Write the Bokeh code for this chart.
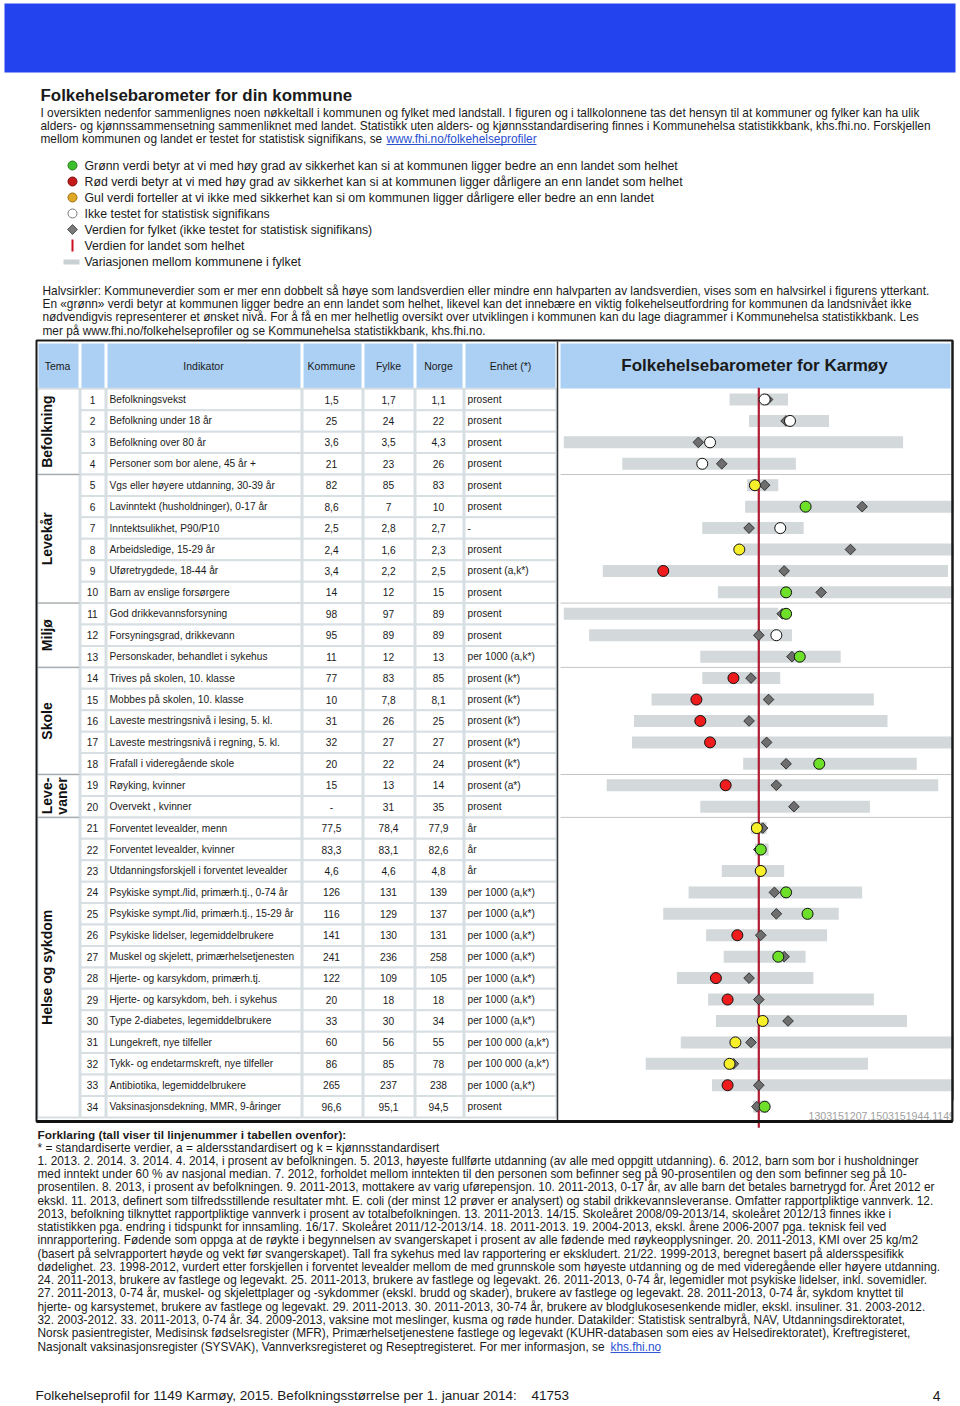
import math
from bokeh.plotting import figure
from bokeh.models import Range1d
from bokeh.core.properties import value
from bokeh.embed import file_html
from bokeh.resources import INLINE

# ---------------- data ----------------
row_no = list(range(1, 35))
indikator = [
    "Befolkningsvekst", "Befolkning under 18 år", "Befolkning over 80 år",
    "Personer som bor alene, 45 år +", "Vgs eller høyere utdanning, 30-39 år",
    "Lavinntekt (husholdninger), 0-17 år", "Inntektsulikhet, P90/P10",
    "Arbeidsledige, 15-29 år", "Uføretrygdede, 18-44 år", "Barn av enslige forsørgere",
    "God drikkevannsforsyning", "Forsyningsgrad, drikkevann",
    "Personskader, behandlet i sykehus", "Trives på skolen, 10. klasse",
    "Mobbes på skolen, 10. klasse", "Laveste mestringsnivå i lesing, 5. kl.",
    "Laveste mestringsnivå i regning, 5. kl.", "Frafall i videregående skole",
    "Røyking, kvinner", "Overvekt , kvinner", "Forventet levealder, menn",
    "Forventet levealder, kvinner", "Utdanningsforskjell i forventet levealder",
    "Psykiske sympt./lid, primærh.tj., 0-74 år", "Psykiske sympt./lid, primærh.tj., 15-29 år",
    "Psykiske lidelser, legemiddelbrukere", "Muskel og skjelett, primærhelsetjenesten",
    "Hjerte- og karsykdom, primærh.tj.", "Hjerte- og karsykdom, beh. i sykehus",
    "Type 2-diabetes, legemiddelbrukere", "Lungekreft, nye tilfeller",
    "Tykk- og endetarmskreft, nye tilfeller", "Antibiotika, legemiddelbrukere",
    "Vaksinasjonsdekning, MMR, 9-åringer",
]
kommune = ["1,5", "25", "3,6", "21", "82", "8,6", "2,5", "2,4", "3,4", "14", "98", "95", "11",
           "77", "10", "31", "32", "20", "15", "-", "77,5", "83,3", "4,6", "126", "116", "141",
           "241", "122", "20", "33", "60", "86", "265", "96,6"]
fylke = ["1,7", "24", "3,5", "23", "85", "7", "2,8", "1,6", "2,2", "12", "97", "89", "12",
         "83", "7,8", "26", "27", "22", "13", "31", "78,4", "83,1", "4,6", "131", "129", "130",
         "236", "109", "18", "30", "56", "85", "237", "95,1"]
norge = ["1,1", "22", "4,3", "26", "83", "10", "2,7", "2,3", "2,5", "15", "89", "89", "13",
         "85", "8,1", "25", "27", "24", "14", "35", "77,9", "82,6", "4,8", "139", "137", "131",
         "258", "105", "18", "34", "55", "78", "238", "94,5"]
enhet = ["prosent"] * 6 + ["-", "prosent", "prosent (a,k*)", "prosent", "prosent", "prosent",
         "per 1000 (a,k*)"] + ["prosent (k*)"] * 5 + ["prosent (a*)", "prosent", "år", "år", "år"] \
        + ["per 1000 (a,k*)"] * 7 + ["per 100 000 (a,k*)"] * 2 + ["per 1000 (a,k*)", "prosent"]

tema_names = ["Befolkning", "Levekår", "Miljø", "Skole", "Leve-", "Helse og sykdom"]
tema_first = [1, 5, 11, 14, 19, 21]
tema_last = [4, 10, 13, 18, 20, 34]
tema_extra = "vaner"

# barometer scale: 0 = Norge, -1 / +1 = half / double (edge of figure)
status = ["w", "w", "w", "w", "y", "g", "w", "y", "r", "g", "g", "w", "g", "r", "r", "r", "r",
          "g", "r", "", "y", "g", "y", "g", "g", "r", "g", "r", "r", "y", "y", "y", "r", "g"]
score_kommune = [0.03, 0.16, -0.25, -0.29, -0.02, 0.24, 0.11, -0.10, -0.49, 0.14, 0.14, 0.09,
                 0.21, -0.13, -0.32, -0.30, -0.25, 0.31, -0.17, None, -0.01, 0.01, 0.01, 0.14,
                 0.25, -0.11, 0.10, -0.22, -0.16, 0.02, -0.12, -0.15, -0.16, 0.03]
score_fylke = [0.045, 0.14, -0.31, -0.19, 0.03, 0.53, -0.05, 0.47, 0.13, 0.32, 0.12, 0.0,
               0.17, -0.04, 0.05, -0.05, 0.04, 0.14, 0.09, 0.18, 0.02, 0.0, 0.01, 0.08, 0.09,
               0.01, 0.13, -0.05, 0.0, 0.15, -0.04, -0.13, 0.0, -0.01]
score_lo = [-0.15, -0.05, -1.0, -0.70, -0.06, -0.07, -0.29, -0.08, -0.80, -0.21, -1.0, -0.87,
            -0.30, -0.29, -0.55, -0.64, -0.65, -0.08, -0.78, -0.30, -0.04, -0.02, -0.19, -0.36,
            -0.49, -0.27, -0.18, -0.42, -0.26, -0.22, -0.40, -0.58, -0.24, -0.03]
score_hi = [0.15, 0.36, 0.74, 0.19, 0.10, 1.0, 0.23, 1.0, 0.97, 1.0, 0.10, 0.17, 0.42, 0.11,
            0.59, 0.66, 0.99, 0.81, 0.92, 0.57, 0.04, 0.05, 0.13, 0.53, 0.41, 0.35, 0.24, 0.28,
            0.59, 0.76, 1.0, 0.56, 1.0, 0.05]

legend_labels = [
    "Grønn verdi betyr at vi med høy grad av sikkerhet kan si at kommunen ligger bedre an enn landet som helhet",
    "Rød verdi betyr at vi med høy grad av sikkerhet kan si at kommunen ligger dårligere an enn landet som helhet",
    "Gul verdi forteller at vi ikke med sikkerhet kan si om kommunen ligger dårligere eller bedre an enn landet",
    "Ikke testet for statistisk signifikans",
    "Verdien for fylket (ikke testet for statistisk signifikans)",
    "Verdien for landet som helhet",
    "Variasjonen mellom kommunene i fylket",
]

intro_lines = [
    "I oversikten nedenfor sammenlignes noen nøkkeltall i kommunen og fylket med landstall. I figuren og i tallkolonnene tas det hensyn til at kommuner og fylker kan ha ulik",
    "alders- og kjønnssammensetning sammenliknet med landet. Statistikk uten alders- og kjønnsstandardisering finnes i Kommunehelsa statistikkbank, khs.fhi.no. Forskjellen",
    "mellom kommunen og landet er testet for statistisk signifikans, se",
]
halv_lines = [
    "Halvsirkler: Kommuneverdier som er mer enn dobbelt så høye som landsverdien eller mindre enn halvparten av landsverdien, vises som en halvsirkel i figurens ytterkant.",
    "En «grønn» verdi betyr at kommunen ligger bedre an enn landet som helhet, likevel kan det innebære en viktig folkehelseutfordring for kommunen da landsnivået ikke",
    "nødvendigvis representerer et ønsket nivå. For å få en mer helhetlig oversikt over utviklingen i kommunen kan du lage diagrammer i Kommunehelsa statistikkbank. Les",
    "mer på www.fhi.no/folkehelseprofiler og se Kommunehelsa statistikkbank, khs.fhi.no.",
]
note_lines = [
    "* = standardiserte verdier, a = aldersstandardisert og k = kjønnsstandardisert",
    "1. 2013. 2. 2014. 3. 2014. 4. 2014, i prosent av befolkningen. 5. 2013, høyeste fullførte utdanning (av alle med oppgitt utdanning). 6. 2012, barn som bor i husholdninger",
    "med inntekt under 60 % av nasjonal median. 7. 2012, forholdet mellom inntekten til den personen som befinner seg på 90-prosentilen og den som befinner seg på 10-",
    "prosentilen. 8. 2013, i prosent av befolkningen. 9. 2011-2013, mottakere av varig uførepensjon. 10. 2011-2013, 0-17 år, av alle barn det betales barnetrygd for. Året 2012 er",
    "ekskl. 11. 2013, definert som tilfredsstillende resultater mht. E. coli (der minst 12 prøver er analysert) og stabil drikkevannsleveranse. Omfatter rapportpliktige vannverk. 12.",
    "2013, befolkning tilknyttet rapportpliktige vannverk i prosent av totalbefolkningen. 13. 2011-2013. 14/15. Skoleåret 2008/09-2013/14, skoleåret 2012/13 finnes ikke i",
    "statistikken pga. endring i tidspunkt for innsamling. 16/17. Skoleåret 2011/12-2013/14. 18. 2011-2013. 19. 2004-2013, ekskl. årene 2006-2007 pga. teknisk feil ved",
    "innrapportering. Fødende som oppga at de røykte i begynnelsen av svangerskapet i prosent av alle fødende med røykeopplysninger. 20. 2011-2013, KMI over 25 kg/m2",
    "(basert på selvrapportert høyde og vekt før svangerskapet). Tall fra sykehus med lav rapportering er ekskludert. 21/22. 1999-2013, beregnet basert på aldersspesifikk",
    "dødelighet. 23. 1998-2012, vurdert etter forskjellen i forventet levealder mellom de med grunnskole som høyeste utdanning og de med videregående eller høyere utdanning.",
    "24. 2011-2013, brukere av fastlege og legevakt. 25. 2011-2013, brukere av fastlege og legevakt. 26. 2011-2013, 0-74 år, legemidler mot psykiske lidelser, inkl. sovemidler.",
    "27. 2011-2013, 0-74 år, muskel- og skjelettplager og -sykdommer (ekskl. brudd og skader), brukere av fastlege og legevakt. 28. 2011-2013, 0-74 år, sykdom knyttet til",
    "hjerte- og karsystemet, brukere av fastlege og legevakt. 29. 2011-2013. 30. 2011-2013, 30-74 år, brukere av blodglukosesenkende midler, ekskl. insuliner. 31. 2003-2012.",
    "32. 2003-2012. 33. 2011-2013, 0-74 år. 34. 2009-2013, vaksine mot meslinger, kusma og røde hunder. Datakilder: Statistisk sentralbyrå, NAV, Utdanningsdirektoratet,",
    "Norsk pasientregister, Medisinsk fødselsregister (MFR), Primærhelsetjenestene fastlege og legevakt (KUHR-databasen som eies av Helsedirektoratet), Kreftregisteret,",
    "Nasjonalt vaksinasjonsregister (SYSVAK), Vannverksregisteret og Reseptregisteret. For mer informasjon, se",
]

# ---------------- layout constants ----------------
W, H = 960, 1406
ROW1_Y, ROW_H = 399.0, 21.43
LINE_X, HALF_W = 758.3, 195.0
FONT = value("Liberation Sans")
TXT = "#1a1a1a"
BODY = 11.85

p = figure(width=W, height=H, x_range=Range1d(0, W), y_range=Range1d(H, 0),
           x_axis_type=None, y_axis_type=None, min_border=0, title=None,
           toolbar_location=None, output_backend="svg")
p.outline_line_color = None
p.background_fill_color = "white"
p.border_fill_color = "white"
p.grid.visible = False
p.extra_x_ranges = {"baro": Range1d(-LINE_X / HALF_W, (W - LINE_X) / HALF_W)}
p.extra_y_ranges = {"rows": Range1d(1 + (H - ROW1_Y) / ROW_H, 1 - ROW1_Y / ROW_H)}


def txt(x, y, s, size, color=TXT, align="left", bold=False, angle=0.0, y_range="default"):
    xs = x if isinstance(x, list) else [x]
    ys = y if isinstance(y, list) else [y]
    ss = s if isinstance(s, list) else [s]
    p.text(x=xs, y=ys, text=ss, text_font=FONT, text_font_size=f"{size}px",
           text_color=color, text_align=align, text_baseline="middle",
           text_font_style="bold" if bold else "normal", angle=angle,
           y_range_name=y_range)


# ---------------- banner ----------------
p.quad(left=4, right=955, top=3, bottom=72, fill_color="#2343ee", line_color=None)

# ---------------- intro ----------------
txt(40, 95, "Folkehelsebarometer for din kommune", 16.9, bold=True)
txt([40] * 3, [112, 125, 138], intro_lines, BODY)
txt(386, 138, "www.fhi.no/folkehelseprofiler", BODY, color="#2a4fd0")
p.segment(x0=[386], y0=[144], x1=[536], y1=[144], line_color="#2a4fd0", line_width=1)

# ---------------- legend ----------------
leg_y = [165 + 16 * i for i in range(7)]
p.scatter(x=[72] * 4, y=leg_y[:4], size=9, marker="circle",
          fill_color=["#3cbf2c", "#c41a1a", "#dfa825", "white"],
          line_color=["#2a7a20", "#7a1010", "#9a7010", "#777777"], line_width=1)
p.scatter(x=[72], y=[leg_y[4]], size=7, marker="square", angle=math.pi / 4,
          fill_color="#7a7a7a", line_color="#555555")
p.segment(x0=[72], y0=[leg_y[5] - 6], x1=[72], y1=[leg_y[5] + 6], line_color="#cc1122", line_width=2)
p.quad(left=63, right=79, top=leg_y[6] - 2, bottom=leg_y[6] + 3, fill_color="#c8d0d4", line_color=None)
txt([84] * 7, leg_y, legend_labels, 12.3)

# ---------------- Halvsirkler paragraph ----------------
txt([42] * 4, [290, 303, 316, 330], halv_lines, BODY)

# ---------------- table header ----------------
hdr_l = [37, 80, 106, 302, 363, 415, 464, 559]
hdr_r = [79, 105, 301, 362, 414, 463, 556, 951]
p.quad(left=hdr_l, right=hdr_r, top=[342] * 8, bottom=[389] * 8,
       fill_color="#abd0f4", line_color="white", line_width=2)
txt([57, 203, 331, 388, 438, 510], [365] * 6,
    ["Tema", "Indikator", "Kommune", "Fylke", "Norge", "Enhet (*)"], 10.5, align="center")
txt(754, 365, "Folkehelsebarometer for Karmøy", 17, bold=True, align="center")

# ---------------- table body ----------------
col_l = [80, 106, 302, 363, 415, 464]
col_r = [105, 301, 362, 414, 463, 556]
for a, b in zip(col_l, col_r):
    p.rect(x=[(a + b) / 2] * 34, y=row_no, width=b - a, height=1,
           fill_color="white", line_color="#d7dfe3", line_width=2, y_range_name="rows")
p.quad(left=[37] * 6, right=[79] * 6, top=[f - 0.5 for f in tema_first],
       bottom=[l + 0.5 for l in tema_last], fill_color="white", line_color="#d7dfe3",
       line_width=2, y_range_name="rows")
# group separators
sep = [l + 0.5 for l in tema_last[:-1]]
p.segment(x0=[37] * 5, y0=sep, x1=[79] * 5, y1=sep, line_color="#a8a8a8", line_width=1,
          y_range_name="rows")
p.segment(x0=[560] * 5, y0=sep, x1=[951] * 5, y1=sep, line_color="#c4c4c4", line_width=1,
          y_range_name="rows")

TS = 10.2
txt([92] * 34, row_no, [str(n) for n in row_no], TS, align="center", y_range="rows")
txt([109] * 34, row_no, indikator, TS, y_range="rows")
txt([331] * 34, row_no, kommune, TS, align="center", y_range="rows")
txt([388] * 34, row_no, fylke, TS, align="center", y_range="rows")
txt([438] * 34, row_no, norge, TS, align="center", y_range="rows")
txt([467] * 34, row_no, enhet, TS, y_range="rows")

# rotated theme labels
tema_mid = [(f + l) / 2 for f, l in zip(tema_first, tema_last)]
tema_x = [46, 46, 46, 46, 46, 46]
txt(tema_x, tema_mid, tema_names, 14, color="#111111", align="center", bold=True,
    angle=math.pi / 2, y_range="rows")
txt(61, tema_mid[4], tema_extra, 14, color="#111111", align="center", bold=True,
    angle=math.pi / 2, y_range="rows")

# ---------------- barometer ----------------
p.hbar(y=row_no, left=score_lo, right=score_hi, height=12 / ROW_H, fill_color="#d3d8da",
       line_color=None, x_range_name="baro", y_range_name="rows")
p.segment(x0=[0], y0=[0.45], x1=[0], y1=[34.98], line_color="#b01c34", line_width=2.2,
          x_range_name="baro", y_range_name="rows")
p.scatter(x=score_fylke, y=row_no, marker="square", angle=math.pi / 4, size=7.5,
          fill_color="#6e6e6e", line_color="#333333", line_width=1,
          x_range_name="baro", y_range_name="rows")
col_map = {"w": "white", "g": "#6ee02a", "r": "#ee1c1c", "y": "#f6ef2a"}
ky = [r for r, s in zip(row_no, status) if s]
kx = [v for v, s in zip(score_kommune, status) if s]
kc = [col_map[s] for s in status if s]
p.scatter(x=kx, y=ky, marker="circle", size=11, fill_color=kc, line_color="#111111",
          line_width=1, x_range_name="baro", y_range_name="rows")

txt(808, 1115, "1303151207.1503151944.1149", 10.6, color="#a0a0a0")

# ---------------- borders ----------------
p.segment(x0=[557], y0=[341], x1=[557], y1=[1121], line_color="#333333", line_width=1.5)
p.quad(left=36, right=952, top=340, bottom=1121, fill_color=None, line_color="#1a1a1a",
       line_width=2)
p.quad(left=952.5, right=960, top=1100, bottom=1125, fill_color="white", line_color=None)
p.segment(x0=[952], y0=[340], x1=[952], y1=[1121], line_color="#1a1a1a", line_width=2)
p.segment(x0=[36], y0=[1121], x1=[952], y1=[1121], line_color="#111111", line_width=3)

# ---------------- notes ----------------
txt(37, 1134, "Forklaring (tall viser til linjenummer i tabellen ovenfor):", 11.8, bold=True)
note_y = [1147 + 13.27 * i for i in range(len(note_lines))]
txt([37] * len(note_lines), note_y, note_lines, BODY)
txt(610, note_y[-1], "khs.fhi.no", BODY, color="#2a4fd0")
p.segment(x0=[610], y0=[note_y[-1] + 6], x1=[660], y1=[note_y[-1] + 6], line_color="#2a4fd0")

txt(35, 1395, "Folkehelseprofil for 1149 Karmøy, 2015. Befolkningsstørrelse per 1. januar 2014:", 13.5)
txt(531, 1395, "41753", 13.5)
txt(940, 1395, "4", 14, align="right")

open("out.html", "w").write(file_html(p, INLINE))
